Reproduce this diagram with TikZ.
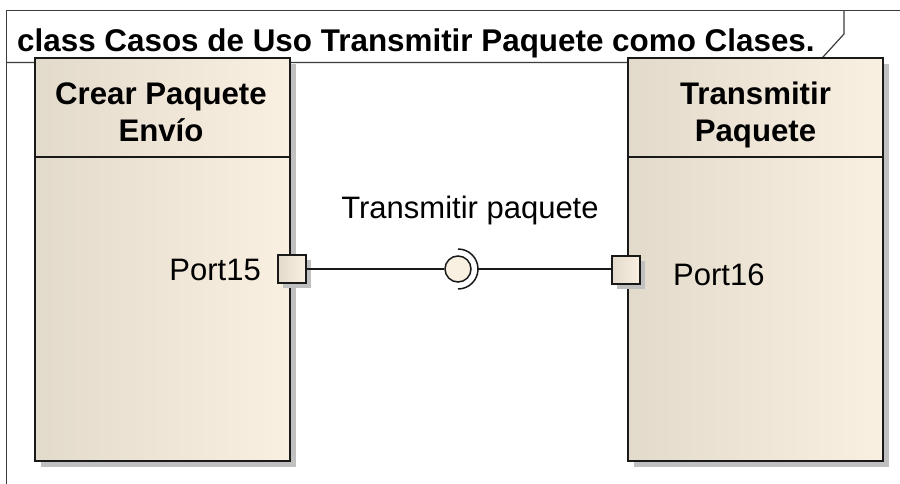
\documentclass[tikz,border=0pt]{standalone}
\usepackage{fontspec}
\setmainfont{Liberation Sans}
\usetikzlibrary{shadows}
\definecolor{beigeL}{RGB}{226,218,203}
\definecolor{beigeR}{RGB}{250,240,226}
\definecolor{shadowgray}{RGB}{192,192,192}
\definecolor{framegray}{RGB}{60,60,60}
\tikzset{
  boxstyle/.style={draw=black!90, line width=2pt, left color=beigeL, right color=beigeR,
    minimum width=255pt, minimum height=403pt, inner sep=0pt,
    drop shadow={shadow xshift=6pt, shadow yshift=-6pt, fill=shadowgray, opacity=1}},
  portstyle/.style={draw=black!90, line width=1.5pt, left color=beigeL, right color=beigeR,
    minimum size=28pt, inner sep=0pt,
    drop shadow={shadow xshift=5pt, shadow yshift=-5pt, fill=shadowgray, opacity=1}},
  headtext/.style={font=\fontsize{31.2}{37}\selectfont\bfseries, inner sep=0pt, anchor=base},
  labeltext/.style={font=\fontsize{31}{37}\selectfont, inner sep=0pt},
  conn/.style={line width=1.5pt, draw=black!90},
}
\begin{document}
\begin{tikzpicture}[x=1pt, y=-1pt]
\useasboundingbox (0,0) rectangle (900,484);
\clip (0,0) rectangle (900,484);
\fill[white] (0,0) rectangle (900,484);
% frame
\draw[framegray, line width=1.2pt] (6.5,490) -- (6.5,10.5) -- (905,10.5);
\draw[framegray, line width=1.2pt] (6.5,62.5) -- (818,62.5) -- (844,34) -- (844,10.5);
\node[headtext, anchor=base west, font=\fontsize{31.4}{37}\selectfont\bfseries] (title) at (17,52) {class Casos de Uso Transmitir Paquete como Clases.};
% boxes
\node[boxstyle] (left) at (162.5,259.5) {};
\node[boxstyle] (right) at (755.5,259.5) {};
\draw[line width=2pt, black!90] (left.west |- 0,157) -- (left.east |- 0,157);
\draw[line width=2pt, black!90] (right.west |- 0,157) -- (right.east |- 0,157);
\node[headtext] (lhead1) at (161,105) {Crear Paquete};
\node[headtext] (lhead2) at (161,142) {Envío};
\node[headtext] (rhead1) at (755.5,105) {Transmitir};
\node[headtext] (rhead2) at (755.5,142) {Paquete};
% ports
\node[portstyle] (p15) at (292,269) {};
\node[portstyle] (p16) at (626,270) {};
\node[labeltext, anchor=base east] (l15) at (261,280) {Port15};
\node[labeltext, anchor=base west] (l16) at (673,285) {Port16};
% interface
\node[circle, draw=black!90, line width=1.5pt, fill=beigeR, minimum size=26pt, inner sep=0pt] (iface) at (458,269) {};
\coordinate (sock) at (478,269);
\draw[line width=1.5pt, black!90] (458,249) arc[start angle=-90, end angle=90, radius=20];
\draw[conn] (p15.east) -- (iface.west);
\draw[conn] (sock) -- (p16.west |- sock);
\node[labeltext] (ilabel) at (470,210) {Transmitir paquete};
\end{tikzpicture}
\end{document}
